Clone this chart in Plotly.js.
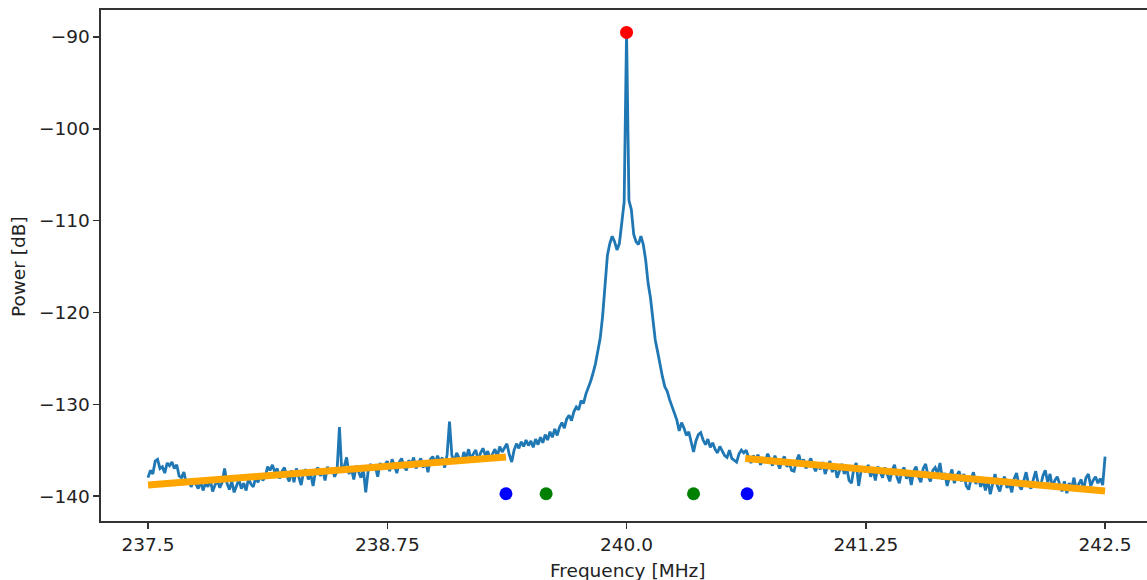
<!DOCTYPE html>
<html>
<head>
<meta charset="utf-8">
<script src="https://cdn.plot.ly/plotly-3.0.1.min.js"></script>
<style>html,body{margin:0;padding:0;background:#fff;}#chart{width:1147px;height:580px;}</style>
</head>
<body>
<div id="chart"></div>
<script>
// Spectrum: frequency bins are a uniform grid starting at 237.5 MHz, step 0.0125 MHz
const freqStart = 237.5;
const freqStep = 0.0125;
const power = [
  -138.0,-137.2,-137.6,-136.2,-136.0,-137.0,-136.8,-137.5,-136.4,-136.7,
  -136.3,-137.0,-136.6,-137.8,-138.0,-137.4,-138.6,-138.2,-139.0,-138.4,
  -138.7,-139.2,-138.4,-139.4,-138.6,-139.0,-138.2,-139.5,-138.8,-138.3,
  -139.1,-138.5,-137.0,-138.6,-139.3,-138.4,-139.6,-138.9,-138.2,-139.2,
  -138.6,-139.4,-138.1,-138.7,-139.0,-138.0,-138.5,-137.6,-138.3,-137.9,
  -136.8,-137.2,-136.6,-137.4,-137.0,-138.1,-137.3,-136.9,-137.8,-138.4,
  -137.2,-138.5,-137.0,-137.9,-138.8,-137.4,-137.1,-138.2,-137.6,-138.9,
  -137.3,-136.9,-137.8,-137.2,-138.3,-136.8,-137.5,-137.0,-137.9,-137.3,
  -132.5,-137.4,-136.8,-135.8,-137.6,-137.0,-138.2,-136.7,-137.4,-138.0,
  -137.1,-139.6,-137.3,-136.5,-137.2,-136.8,-137.9,-136.4,-137.0,-136.6,
  -136.2,-137.3,-136.0,-136.7,-137.5,-136.3,-135.9,-136.8,-137.2,-136.1,
  -136.6,-135.8,-137.0,-136.4,-135.9,-136.9,-136.2,-137.4,-136.0,-135.7,
  -136.5,-135.6,-136.3,-135.8,-136.9,-135.5,-131.9,-135.6,-136.2,-135.3,
  -135.8,-136.4,-135.2,-135.9,-134.9,-136.0,-135.4,-135.0,-136.1,-135.3,
  -134.8,-135.6,-135.1,-136.0,-135.4,-134.9,-135.7,-134.6,-135.2,-134.7,
  -134.3,-135.5,-136.3,-135.0,-134.3,-134.8,-134.1,-134.6,-133.9,-134.5,
  -134.0,-134.7,-133.8,-134.4,-133.6,-134.2,-133.3,-133.9,-133.0,-133.6,
  -132.7,-133.4,-132.5,-132.0,-132.6,-131.6,-131.2,-131.8,-130.8,-130.3,
  -130.6,-129.6,-129.9,-128.9,-128.3,-127.5,-126.6,-125.6,-124.2,-122.8,
  -120.4,-116.5,-113.8,-112.5,-111.7,-112.3,-113.2,-112.5,-110.5,-108.0,
  -89.5,
  -107.8,-108.8,-111.5,-112.3,-112.6,-111.7,-112.6,-114.3,-116.8,
  -118.4,-120.5,-123.0,-124.3,-125.9,-127.0,-128.1,-128.6,-129.5,-130.2,
  -130.8,-131.7,-132.9,-132.0,-132.6,-133.4,-133.0,-134.3,-135.2,-134.0,
  -133.3,-133.1,-133.9,-134.4,-133.8,-134.7,-134.2,-134.9,-135.3,-134.6,
  -135.1,-135.6,-135.8,-135.0,-135.9,-136.1,-136.3,-135.4,-135.0,-135.3,
  -135.0,-135.8,-136.4,-135.6,-136.0,-135.5,-136.6,-135.8,-136.2,-135.4,
  -136.0,-136.7,-135.6,-136.3,-137.0,-136.1,-135.7,-136.8,-136.4,-137.2,
  -137.3,-136.2,-135.5,-136.5,-136.0,-137.0,-136.4,-135.9,-136.7,-137.3,
  -136.5,-137.1,-136.3,-137.6,-136.8,-136.2,-137.4,-136.6,-138.0,-137.2,
  -136.5,-137.6,-136.9,-138.3,-138.6,-137.0,-136.4,-138.9,-137.3,-136.8,
  -137.4,-136.6,-137.9,-137.1,-138.3,-136.8,-137.5,-138.0,-136.9,-137.7,
  -138.4,-137.2,-136.6,-137.9,-138.6,-137.3,-136.9,-138.1,-137.5,-138.8,
  -137.3,-136.8,-137.9,-138.5,-137.0,-136.5,-137.8,-138.4,-137.2,-136.9,
  -137.6,-136.4,-138.2,-137.5,-138.9,-137.9,-137.1,-138.6,-137.8,-137.3,
  -138.4,-137.6,-138.9,-139.3,-138.1,-137.4,-138.7,-137.9,-139.0,-138.3,
  -139.4,-138.2,-139.8,-138.7,-137.6,-138.9,-139.5,-138.4,-137.9,-139.1,
  -138.6,-139.6,-138.1,-137.5,-138.8,-139.3,-138.3,-137.4,-138.7,-139.2,
  -138.2,-137.3,-138.6,-139.0,-137.8,-137.2,-138.5,-137.6,-139.1,-138.3,
  -137.9,-138.8,-139.5,-138.4,-139.7,-138.6,-139.2,-138.0,-139.4,-138.7,
  -138.2,-139.3,-138.0,-137.6,-138.9,-138.3,-137.9,-138.6,-138.1,-138.8,
  -135.7
];
const freq = power.map((_, i) => +(freqStart + i * freqStep).toFixed(4));

// Linear noise-floor fits
const fitLeftX = [237.5, 239.37];
const fitLeftY = [-138.8, -135.75];
const fitRightX = [240.62, 242.5];
const fitRightY = [-135.9, -139.45];

// Marker points
const peakX = [240.0];
const peakY = [-89.5];
const outerX = [239.37, 240.63];
const outerY = [-139.75, -139.75];
const innerX = [239.58, 240.35];
const innerY = [-139.75, -139.75];

// Ticks
const xTickVals = [237.5, 238.75, 240.0, 241.25, 242.5];
const xTickText = ['237.5', '238.75', '240.0', '241.25', '242.5'];
const yTickVals = [-90, -100, -110, -120, -130, -140];
const yTickText = ['\u221290', '\u2212100', '\u2212110', '\u2212120', '\u2212130', '\u2212140'];

const traces = [
  {x: freq, y: power, type: 'scatter', mode: 'lines', line: {color: '#1f77b4', width: 2.8}, hoverinfo: 'skip'},
  {x: fitLeftX, y: fitLeftY, type: 'scatter', mode: 'lines', line: {color: '#FFA500', width: 7}},
  {x: fitRightX, y: fitRightY, type: 'scatter', mode: 'lines', line: {color: '#FFA500', width: 7}},
  {x: peakX, y: peakY, type: 'scatter', mode: 'markers', marker: {color: '#ff0000', size: 13}},
  {x: outerX, y: outerY, type: 'scatter', mode: 'markers', marker: {color: '#0000ff', size: 13}},
  {x: innerX, y: innerY, type: 'scatter', mode: 'markers', marker: {color: '#008000', size: 13}}
];

const font = {family: 'DejaVu Sans', size: 18.5, color: '#222'};
const layout = {
  width: 1147, height: 580,
  margin: {l: 101, r: 0, t: 10, b: 59},
  paper_bgcolor: '#fff', plot_bgcolor: '#fff',
  showlegend: false,
  font: font,
  xaxis: {
    range: [237.2544, 242.719],
    tickmode: 'array', tickvals: xTickVals, ticktext: xTickText,
    ticks: 'outside', ticklen: 6, tickwidth: 1.4, tickcolor: '#333',
    showline: true, linecolor: '#333', linewidth: 1.6, mirror: true,
    showgrid: false, zeroline: false,
    tickfont: font
  },
  yaxis: {
    range: [-142.72, -87.06],
    tickmode: 'array', tickvals: yTickVals, ticktext: yTickText,
    ticks: 'outside', ticklen: 6, tickwidth: 1.4, tickcolor: '#333',
    showline: true, linecolor: '#333', linewidth: 1.6,
    showgrid: false, zeroline: false,
    tickfont: font
  },
  annotations: [
    {text: 'Frequency [MHz]', xref: 'paper', yref: 'paper', x: 0.5029, y: -0.0959,
     xanchor: 'center', yanchor: 'middle', showarrow: false, font: font},
    {text: 'Power [dB]', xref: 'paper', yref: 'paper', x: -0.0793, y: 0.497,
     xanchor: 'center', yanchor: 'middle', textangle: -90, showarrow: false, font: font}
  ]
};

Plotly.newPlot('chart', traces, layout, {displayModeBar: false, staticPlot: true});
</script>
</body>
</html>
